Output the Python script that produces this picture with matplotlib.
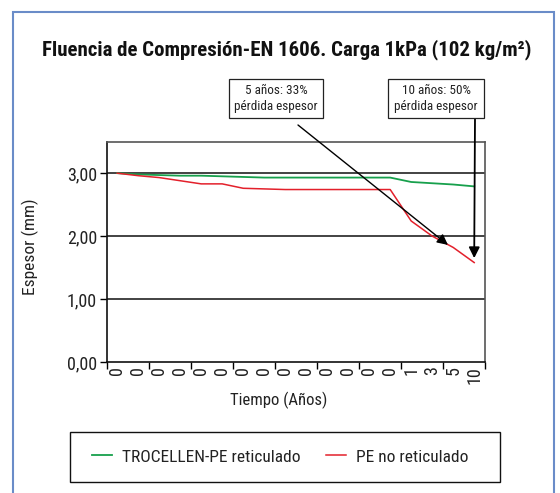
"""Fluencia de compresión EN 1606 — espesor vs tiempo (TROCELLEN-PE vs PE no reticulado)."""
import matplotlib
matplotlib.use("Agg")
import matplotlib.pyplot as plt
from matplotlib import font_manager
from matplotlib.patches import Rectangle

# prefer a narrow face (the original uses a condensed gothic)
fonts = font_manager.fontManager.ttflist
names = {f.name for f in fonts}
STRETCH = "normal"
FONT = "Liberation Sans"
for cand in ["Liberation Sans Narrow", "Roboto Condensed", "Open Sans Condensed",
             "DejaVu Sans Condensed"]:
    if cand in names:
        FONT = cand
        break
else:
    if any(f.name == "DejaVu Sans" and f.stretch == "condensed" for f in fonts):
        FONT, STRETCH = "DejaVu Sans", "condensed"
plt.rcParams["font.family"] = [FONT, "DejaVu Sans"]
plt.rcParams["font.stretch"] = STRETCH
NARROW = FONT != "Liberation Sans"
K = 1.0 if NARROW else 0.85   # shrink sizes if only a normal-width face exists

# ---- data ----
tiempo = ["0"] * 14 + ["1", "3", "5", "10"]
trocellen = [3.00, 2.98, 2.97, 2.96, 2.96, 2.95, 2.94, 2.93, 2.93, 2.93,
             2.93, 2.93, 2.93, 2.93, 2.86, 2.84, 2.82, 2.79]
pe_no_ret = [3.00, 2.96, 2.93, 2.88, 2.83, 2.83, 2.76, 2.75, 2.74, 2.74,
             2.74, 2.74, 2.74, 2.74, 2.24, 2.00, 1.82, 1.58]
yticks = [0, 1, 2, 3]
ytick_labels = ["0,00", "1,00", "2,00", "3,00"]

C_GREEN = "#17a04c"
C_RED = "#e3202b"
C_FRAME = "#6a8cc8"
C_TXT = "#222222"

W, H = 560, 493
fig = plt.figure(figsize=(W / 100, H / 100), dpi=100)
ax = fig.add_axes([106.7 / W, 1 - 362 / H, 378 / W, 220.3 / H])

x = list(range(len(tiempo)))
ax.plot(x, trocellen, color=C_GREEN, lw=1.3, label="TROCELLEN-PE reticulado", zorder=3)
ax.plot(x, pe_no_ret, color=C_RED, lw=1.1, label="PE no reticulado", zorder=3)

ax.set_xlim(-0.5, len(tiempo) - 0.5)
ax.set_ylim(0, 3.5)
ax.set_yticks(yticks, ytick_labels, fontsize=13 * K, color=C_TXT)
ax.set_xticks(x, tiempo, rotation=90, fontsize=13 * K, color=C_TXT)
ax.set_xticks([i - 0.5 for i in range(0, len(tiempo) + 1, 2)], minor=True)
ax.tick_params(axis="x", which="major", length=0, pad=3)
ax.tick_params(axis="x", which="minor", length=5, width=1, direction="out")
ax.tick_params(axis="y", length=5, width=1, direction="out", pad=2)
for yv in yticks[1:]:
    ax.axhline(yv, color="#222222", lw=1.2, zorder=2)
for s in ["left", "bottom"]:
    ax.spines[s].set_color("#111111")
    ax.spines[s].set_linewidth(1.2)
for s in ["top", "right"]:
    ax.spines[s].set_color("#555555")
    ax.spines[s].set_linewidth(1.2)

ax.set_ylabel("Espesor (mm)", fontsize=12.5 * K, color=C_TXT, va="center")
ax.yaxis.set_label_coords(30 / W, 1 - 247 / H, transform=fig.transFigure)
ax.set_xlabel("Tiempo (Años)", fontsize=12 * K, color=C_TXT, va="center")
ax.xaxis.set_label_coords(279 / W, 1 - 400 / H, transform=fig.transFigure)

fig.text(287 / W, 1 - 50 / H,
         "Fluencia de Compresión-EN 1606. Carga 1kPa (102 kg/m²)",
         ha="center", va="center", fontsize=15 * K,
         fontweight="bold", color="#111111")

# annotation boxes + arrows
for (x0, x1, txt) in [(229, 323, "5 años: 33%\npérdida espesor"),
                      (388, 484, "10 años: 50%\npérdida espesor")]:
    fig.add_artist(Rectangle((x0 / W, 1 - 118 / H), (x1 - x0) / W, 39 / H,
                             transform=fig.transFigure, fill=True, fc="white",
                             ec="#222222", lw=0.9))
    fig.text((x0 + x1) / 2 / W, 1 - 98.5 / H, txt, ha="center", va="center",
             fontsize=9.5 * K, linespacing=1.35, color=C_TXT)

arrow = dict(arrowstyle="-|>", color="black", lw=1.0, mutation_scale=16,
             shrinkA=0, shrinkB=0)
ax.annotate("", xy=(15.75, 1.86), xycoords="data",
            xytext=(298 / W, 1 - 125 / H), textcoords="figure fraction",
            arrowprops=arrow, zorder=5, annotation_clip=False)
ax.annotate("", xy=(17, 1.65), xycoords="data",
            xytext=(475 / W, 1 - 118 / H), textcoords="figure fraction",
            arrowprops=dict(arrow, lw=1.3), zorder=5, annotation_clip=False)

# legend box
fig.add_artist(Rectangle((70 / W, 1 - 482 / H), 430 / W, 50 / H,
                         transform=fig.transFigure, fill=False, ec="#111111", lw=1.0))
fig.legend(loc="center", bbox_to_anchor=(280 / W, 1 - 457 / H), ncol=2,
           frameon=False, fontsize=12.5 * K, handlelength=1.15,
           columnspacing=1.5, handletextpad=0.57, labelcolor=C_TXT)

# outer blue frame
fig.add_artist(Rectangle((13 / W, -0.05), 541 / W, 1.05 - 11.7 / H,
                         transform=fig.transFigure, fill=False, ec=C_FRAME, lw=1.5))

fig.savefig("out.png", dpi=100, facecolor="white")
